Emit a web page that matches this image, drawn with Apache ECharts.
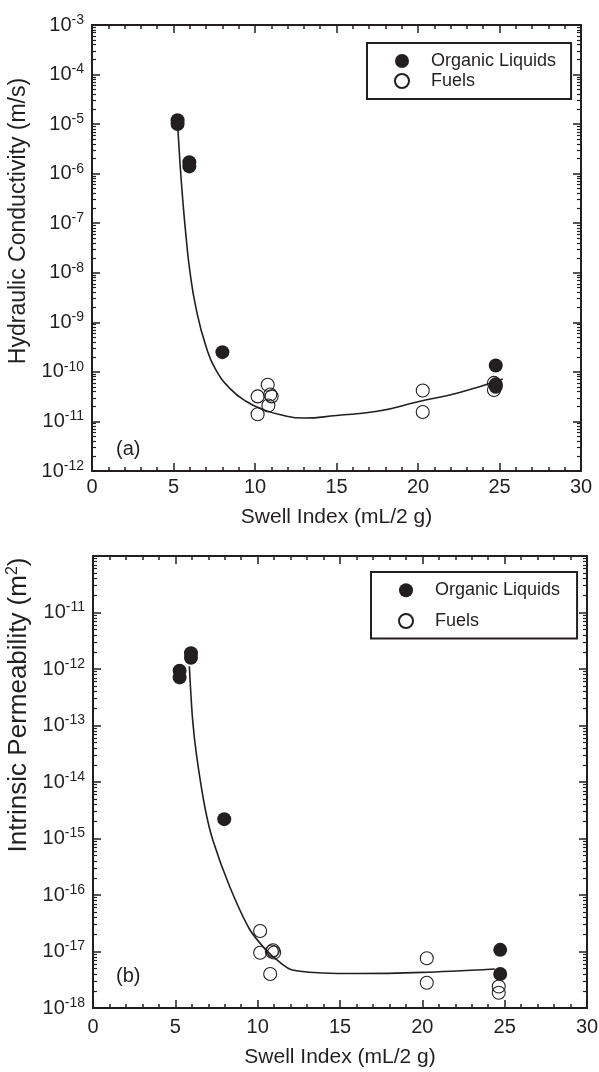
<!DOCTYPE html>
<html>
<head>
<meta charset="utf-8">
<script src="https://cdn.jsdelivr.net/npm/echarts@6/dist/echarts.min.js"></script>
<style>
html,body{margin:0;padding:0;background:#fff;}
#chart{width:599px;height:1072px;}
</style>
</head>
<body>
<div id="chart"></div>
<script>
// ---------- data ----------
// Panel (a): hydraulic conductivity (m/s) vs swell index (mL/2 g)
const swellA_organic = [5.25, 5.25, 5.97, 5.97, 8.0, 24.77, 24.77, 24.77];
const condA_organic  = [1.2e-5, 1.0e-5, 1.7e-6, 1.4e-6, 2.5e-10, 1.35e-10, 5.0e-11, 5.6e-11];
const swellA_fuels   = [10.16, 10.16, 10.78, 10.94, 11.02, 10.82, 20.29, 20.29, 24.66, 24.66];
const condA_fuels    = [3.2e-11, 1.4e-11, 5.5e-11, 3.5e-11, 3.2e-11, 2.1e-11, 4.2e-11, 1.55e-11, 6.0e-11, 4.3e-11];
const fitA_x = [5.25, 5.4, 5.55, 5.75, 6.0, 6.4, 7.0, 7.6, 8.5, 9.5, 10.5, 11.5, 13, 15, 17.5, 20, 22.5, 25.2];
const fitA_y = [1.0e-5, 1.6e-6, 3.5e-7, 6.3e-8, 1.1e-8, 1.8e-9, 3.2e-10, 1.1e-10, 4.5e-11, 2.5e-11, 1.74e-11, 1.38e-11, 1.17e-11, 1.32e-11, 1.6e-11, 2.5e-11, 3.8e-11, 7.2e-11];

// Panel (b): intrinsic permeability (m^2) vs swell index
const swellB_organic = [5.26, 5.26, 5.95, 5.95, 7.97, 24.73, 24.73];
const permB_organic  = [9.3e-13, 7.1e-13, 1.9e-12, 1.58e-12, 2.2e-15, 1.07e-17, 4.0e-18];
const swellB_fuels   = [10.15, 10.15, 10.86, 11.0, 10.93, 10.76, 20.27, 20.27, 24.64, 24.64];
const permB_fuels    = [2.3e-17, 9.5e-18, 1.0e-17, 9.6e-18, 1.05e-17, 4.0e-18, 7.6e-18, 2.8e-18, 2.4e-18, 1.86e-18];
const fitB_x = [5.85, 6.05, 6.3, 6.8, 7.28, 8.3, 9.5, 10.5, 11.3, 12.1, 14, 16, 20, 24.4];
const fitB_y = [1.12e-12, 1.26e-13, 2.8e-14, 3.5e-15, 9.3e-16, 1.41e-16, 2.5e-17, 1.07e-17, 6.6e-18, 4.7e-18, 4.17e-18, 4.07e-18, 4.27e-18, 4.9e-18];

// axis ranges / labels
const xRange = [0, 30];
const xStep = 5;
const yRangeA = [1e-12, 1e-3];
const yRangeB = [1e-18, 1e-10];
const seriesNames = ['Organic Liquids', 'Fuels'];
const panelLabels = ['(a)', '(b)'];
const xTitle = 'Swell Index (mL/2 g)';
const yTitleA = 'Hydraulic Conductivity (m/s)';
const yTitleB = '{n|Intrinsic Permeability (m}{s|2}{n|)}';

// ---------- helpers ----------
const FONT = '"Liberation Sans", Arial, Helvetica, sans-serif';
const INK = '#231f20';
const pairs = (xs, ys) => xs.map((x, i) => [x, ys[i]]);
const minorExps = (lo, hi) => {
  const out = [];
  for (let e = lo; e < hi; e++) for (let k = 2; k <= 9; k++) out.push(e + Math.log10(k));
  return out;
};
const expFmt = v => '{b|10}{s|' + Math.round(Math.log10(v)) + '}';
const tickRich = {
  b: {fontSize: 20, fontFamily: FONT, color: INK, lineHeight: 24},
  s: {fontSize: 14, fontFamily: FONT, color: INK, verticalAlign: 'top', lineHeight: 14}
};

const grids = [
  {left: 92, top: 25, width: 489, height: 446, containLabel: false, outerBoundsMode: 'none'},
  {left: 93, top: 556, width: 494, height: 452, containLabel: false, outerBoundsMode: 'none'}
];

function xAxes(gi, labelMargin, nameGap) {
  const base = {
    type: 'value', gridIndex: gi, min: xRange[0], max: xRange[1], interval: xStep,
    axisLine: {show: true, onZero: false, lineStyle: {color: INK, width: 2}},
    axisTick: {show: true, inside: true, length: 8, lineStyle: {color: INK, width: 1.5}},
    minorTick: {show: true, splitNumber: 5, length: 4, lineStyle: {color: INK, width: 1.5}},
    splitLine: {show: false}, minorSplitLine: {show: false}
  };
  return [
    Object.assign({}, base, {
      position: 'bottom',
      axisLabel: {margin: labelMargin, fontSize: 20, fontFamily: FONT, color: INK},
      name: xTitle, nameLocation: 'middle', nameGap: nameGap,
      nameTextStyle: {fontSize: 21, fontFamily: FONT, color: INK}
    }),
    Object.assign({}, base, {position: 'top', axisLabel: {show: false}})
  ];
}

function yAxes(gi, range, name, nameStyle, showMax) {
  const lo = Math.round(Math.log10(range[0])), hi = Math.round(Math.log10(range[1]));
  const major = {
    type: 'log', logBase: 10, gridIndex: gi, min: range[0], max: range[1], splitNumber: 10,
    axisLine: {show: true, onZero: false, lineStyle: {color: INK, width: 2}},
    axisTick: {show: true, inside: true, length: 8, lineStyle: {color: INK, width: 1.5}},
    splitLine: {show: false}, minorTick: {show: false}
  };
  const minor = {
    type: 'value', gridIndex: gi, min: lo, max: hi, offset: 0,
    axisLine: {show: false, onZero: false},
    axisTick: {show: true, inside: true, length: 4, customValues: minorExps(lo, hi), lineStyle: {color: INK, width: 1.2}},
    axisLabel: {show: false}, splitLine: {show: false}
  };
  return [
    Object.assign({}, major, {
      position: 'left',
      axisLabel: {margin: 8, formatter: expFmt, rich: tickRich, showMaxLabel: showMax, showMinLabel: true},
      name: name, nameLocation: 'middle', nameGap: nameStyle.gap,
      nameTextStyle: nameStyle.style
    }),
    Object.assign({}, minor, {position: 'left'}),
    Object.assign({}, major, {position: 'right', axisLabel: {show: false}}),
    Object.assign({}, minor, {position: 'right'})
  ];
}

function panelSeries(gi, orgX, orgY, fuelX, fuelY, fitX, fitY, smooth) {
  const xi = gi * 2, yi = gi * 4;
  return [
    {type: 'line', xAxisIndex: xi, yAxisIndex: yi, data: pairs(fitX, fitY), showSymbol: false,
     smooth: smooth, lineStyle: {color: INK, width: 1.6}, silent: true, z: 1},
    {type: 'scatter', name: seriesNames[0], xAxisIndex: xi, yAxisIndex: yi, data: pairs(orgX, orgY),
     symbol: 'circle', symbolSize: 14, itemStyle: {color: INK, borderColor: INK, borderWidth: 0, opacity: 1}, z: 3},
    {type: 'scatter', name: seriesNames[1], xAxisIndex: xi, yAxisIndex: yi, data: pairs(fuelX, fuelY),
     symbol: 'circle', symbolSize: 13, itemStyle: {color: 'rgba(255,255,255,0)', borderColor: INK, borderWidth: 1.1, opacity: 1}, z: 2}
  ];
}

function legendAt(left, top, gap, padding) {
  return {
    left: left, top: top, orient: 'vertical', itemWidth: 48, itemHeight: 14, itemGap: gap,
    padding: padding, borderColor: INK, borderWidth: 2, borderRadius: 0, selectedMode: false,
    symbolKeepAspect: true,
    textStyle: {fontSize: 18, fontFamily: FONT, color: INK},
    data: seriesNames.map(n => ({name: n, icon: 'circle'}))
  };
}

const chart = echarts.init(document.getElementById('chart'), null, {renderer: 'canvas'});
chart.setOption({
  animation: false,
  backgroundColor: '#fff',
  title: [
    {text: panelLabels[0], left: 116, top: 439, padding: 0, textStyle: {fontSize: 20, fontWeight: 'normal', color: INK, fontFamily: FONT}},
    {text: panelLabels[1], left: 116, top: 966, padding: 0, textStyle: {fontSize: 20, fontWeight: 'normal', color: INK, fontFamily: FONT}}
  ],
  legend: [
    legendAt(367, 43, 2, [9, 15, 9, 27]),
    legendAt(371, 572, 12.7, [9.3, 17, 8.6, 27])
  ],
  grid: grids,
  xAxis: xAxes(0, 6, 36).concat(xAxes(1, 9, 39)),
  yAxis: yAxes(0, yRangeA, yTitleA,
      {gap: 58, style: {fontSize: 23, fontFamily: FONT, color: INK, padding: [0, 0, 0, 54]}}, true)
    .concat(yAxes(1, yRangeB, yTitleB,
      {gap: 59, style: {fontFamily: FONT, color: INK, padding: [0, 0, 0, 154],
        rich: {n: {fontSize: 26, fontFamily: FONT, color: INK, lineHeight: 29},
               s: {fontSize: 16, fontFamily: FONT, color: INK, verticalAlign: 'top', lineHeight: 16}}}}, false)),
  series: panelSeries(0, swellA_organic, condA_organic, swellA_fuels, condA_fuels, fitA_x, fitA_y, 0.5)
    .concat(panelSeries(1, swellB_organic, permB_organic, swellB_fuels, permB_fuels, fitB_x, fitB_y, 0.3))
});
</script>
</body>
</html>
